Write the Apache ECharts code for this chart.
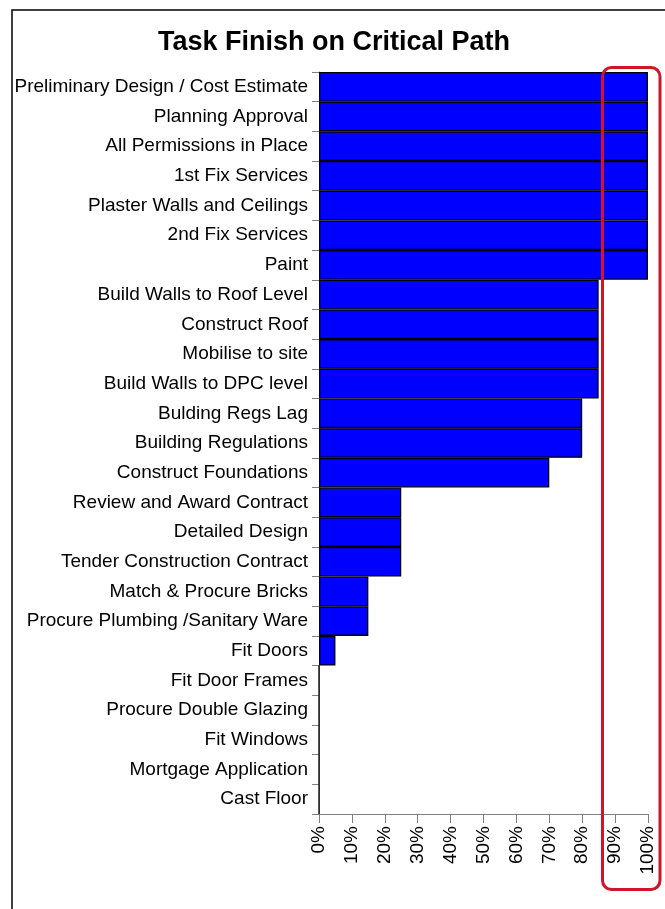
<!DOCTYPE html>
<html>
<head>
<meta charset="utf-8">
<script src="https://cdn.jsdelivr.net/npm/echarts@6/dist/echarts.min.js"></script>
<style>
  html, body { margin: 0; padding: 0; background: #ffffff; }
  #chart { width: 665px; height: 909px; }
</style>
</head>
<body>
<div id="chart"></div>
<script>
// Tasks listed top to bottom
const tasks = [
  'Preliminary Design / Cost Estimate',
  'Planning Approval',
  'All Permissions in Place',
  '1st Fix Services',
  'Plaster Walls and Ceilings',
  '2nd Fix Services',
  'Paint',
  'Build Walls to Roof Level',
  'Construct Roof',
  'Mobilise to site',
  'Build Walls to DPC level',
  'Bulding Regs Lag',
  'Building Regulations',
  'Construct Foundations',
  'Review and Award Contract',
  'Detailed Design',
  'Tender Construction Contract',
  'Match & Procure Bricks',
  'Procure Plumbing /Sanitary Ware',
  'Fit Doors',
  'Fit Door Frames',
  'Procure Double Glazing',
  'Fit Windows',
  'Mortgage Application',
  'Cast Floor'
];

// Percentage of the critical path at which each task finishes
const finishPct = [
  100, 100, 100, 100, 100, 100, 100,
  85, 85, 85, 85,
  80, 80,
  70,
  25, 25, 25,
  15, 15,
  5,
  0, 0, 0, 0, 0
];

const axisColor = '#808080';
const fontFamily = '"Liberation Sans", Arial, sans-serif';

const chart = echarts.init(document.getElementById('chart'));

chart.setOption({
  animation: false,
  backgroundColor: '#ffffff',
  title: {
    text: 'Task Finish on Critical Path',
    left: 329,
    textAlign: 'center',
    top: 24,
    textStyle: { fontFamily: fontFamily, fontSize: 27, fontWeight: 'bold', color: '#000000' }
  },
  grid: { left: 319, right: 17, top: 72, bottom: 95, containLabel: false },
  xAxis: {
    type: 'value',
    min: 0,
    max: 100,
    interval: 10,
    splitLine: { show: false },
    axisLine: { show: true, lineStyle: { color: axisColor, width: 1 } },
    axisTick: { show: true, length: 9, lineStyle: { color: axisColor } },
    axisLabel: {
      rotate: 90,
      margin: 12,
      formatter: '{value}%',
      color: '#000000',
      fontFamily: fontFamily,
      fontSize: 19
    }
  },
  yAxis: {
    type: 'category',
    inverse: true,
    data: tasks,
    axisLine: { show: true, onZero: false, lineStyle: { color: axisColor, width: 1 } },
    axisTick: { show: true, length: 7, alignWithLabel: false, lineStyle: { color: axisColor } },
    axisLabel: {
      margin: 11,
      color: '#000000',
      fontFamily: fontFamily,
      fontSize: 19,
      interval: 0
    }
  },
  series: [{
    type: 'bar',
    data: finishPct,
    barCategoryGap: '0%',
    itemStyle: { color: '#0000ff', borderColor: '#000000', borderWidth: 1.3 },
    silent: true
  }],
  graphic: [
    {
      // outer chart frame
      type: 'rect',
      shape: { x: 12, y: 10, width: 700, height: 950 },
      style: { fill: 'none', stroke: '#000000', lineWidth: 1.5 },
      z: 10
    },
    {
      // highlight around the 90%-100% band
      type: 'rect',
      shape: { x: 602.5, y: 67.5, width: 57.5, height: 822, r: 9 },
      style: { fill: 'none', stroke: '#d0142c', lineWidth: 3 },
      z: 20
    }
  ]
});
</script>
</body>
</html>
